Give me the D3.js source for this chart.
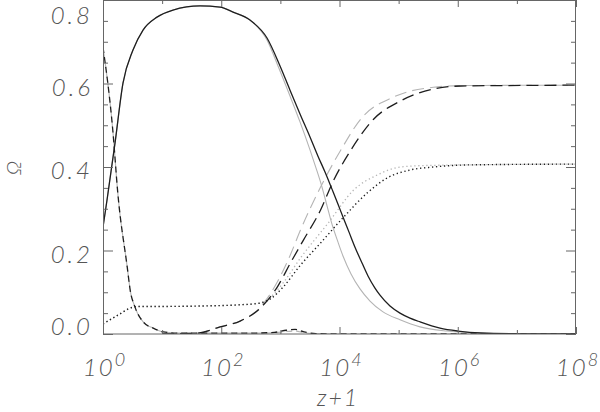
<!DOCTYPE html>
<html><head><meta charset="utf-8">
<script src="https://cdn.jsdelivr.net/npm/d3@7"></script>
<style>
html,body{margin:0;padding:0;background:#fff;}
svg{display:block;}
text{font-family:Lato,"Open Sans","DejaVu Sans",sans-serif;font-style:italic;font-weight:300;fill:#555;}
</style></head>
<body>
<script>
// ---- data (x as log10(z+1), y as Omega) ----
const xDomain = [1, 1e8];
const yDomain = [0, 0.8];
const xMajorExp = [0, 2, 4, 6, 8];
const xMinorExp = [1, 3, 5, 7];
const yMajorTicks = [0.0, 0.2, 0.4, 0.6, 0.8];
const yMinorTicks = [0.05,0.1,0.15,0.25,0.3,0.35,0.45,0.5,0.55,0.65,0.7,0.75];
const yTickLabels = ["0.0","0.2","0.4","0.6","0.8"];
const xTitle = "z+1";
const yTitle = "Ω";

// solid: model A (black) and model B (gray)
const solidA_lz = [0,0.068,0.203,0.338,0.507,0.677,0.913,1.184,1.641,1.979,2.199,2.486,2.774,2.994,3.163,3.332,3.501,3.636,3.755,3.873,3.975,4.059,4.161,4.262,4.381,4.482,4.600,4.685,4.854,5.023,5.192,5.362,5.70,6.004,6.376,7.053,8.0];
const solidA_om = [0.256,0.321,0.457,0.601,0.680,0.728,0.759,0.776,0.786,0.783,0.771,0.752,0.709,0.642,0.584,0.527,0.472,0.426,0.388,0.347,0.311,0.280,0.244,0.208,0.170,0.139,0.110,0.093,0.067,0.050,0.038,0.029,0.014,0.007,0.0024,0.0005,0];
const solidB_lz = [0,0.068,0.203,0.338,0.507,0.677,0.913,1.184,1.641,1.979,2.199,2.486,2.774,2.96,3.163,3.332,3.501,3.602,3.704,3.789,3.873,3.975,4.059,4.195,4.347,4.516,4.736,5.023,5.362,5.818,6.376,7.053,8.0];
const solidB_om = [0.256,0.321,0.457,0.601,0.680,0.728,0.759,0.776,0.786,0.783,0.771,0.752,0.704,0.642,0.570,0.508,0.441,0.398,0.352,0.307,0.263,0.220,0.187,0.144,0.108,0.079,0.053,0.034,0.017,0.007,0.0024,0.0005,0];

// long dash: rising tracker component
const longA_lz = [1.0,1.59,1.98,2.32,2.66,2.95,3.17,3.39,3.68,3.88,4.19,4.58,5.03,5.59,6.05,6.73,8.0];
const longA_om = [0,0.002,0.017,0.031,0.062,0.113,0.17,0.225,0.297,0.362,0.44,0.515,0.558,0.587,0.594,0.595,0.596];
const longB_lz = [1.0,1.59,1.98,2.32,2.66,2.95,3.17,3.34,3.68,4.02,4.36,4.92,5.59,6.05,8.0];
const longB_om = [0,0.002,0.017,0.031,0.064,0.125,0.19,0.249,0.352,0.44,0.515,0.568,0.591,0.595,0.596];

// dotted
const dotA_lz = [0,0.25,0.5,0.6,1.0,1.64,2.32,2.66,2.83,3.05,3.34,3.68,4.07,4.47,4.81,5.2,5.59,6.17,8.0];
const dotA_om = [0.024,0.045,0.064,0.066,0.066,0.067,0.07,0.074,0.084,0.113,0.165,0.218,0.28,0.338,0.374,0.393,0.40,0.405,0.407];
const dotB_lz = [0,0.25,0.5,0.6,1.0,1.64,2.32,2.66,2.83,3.05,3.34,3.81,4.24,4.64,5.03,5.59,8.0];
const dotB_om = [0.024,0.045,0.064,0.066,0.066,0.067,0.07,0.075,0.088,0.123,0.182,0.266,0.345,0.381,0.40,0.404,0.407];

// short dash: present-day dark energy
const dashA_lz = [0,0.17,0.25,0.41,0.46,0.54,0.68,0.85,1.02,1.3,2.5,2.9,3.1,3.25,3.4,3.6,4.0,8.0];
const dashA_om = [0.687,0.481,0.338,0.16,0.105,0.065,0.029,0.014,0.005,0.002,0.002,0.004,0.009,0.011,0.005,0.001,0,0];
const dashB_lz = [0,0.17,0.25,0.41,0.46,0.54,0.68,0.85,1.02,1.3,2.5,2.9,3.1,3.25,3.4,3.6,4.0,8.0];
const dashB_om = [0.687,0.481,0.338,0.16,0.105,0.065,0.029,0.014,0.005,0.002,0.002,0.003,0.006,0.007,0.003,0.001,0,0];

// ---- layout ----
const W = 600, H = 412;
const L = 103, R = 576, T = 0, B = 334;
const svg = d3.select("body").append("svg").attr("width", W).attr("height", H);
const x = d3.scaleLog().domain(xDomain).range([L, R]);
const y = d3.scaleLinear().domain(yDomain).range([B, T]);

svg.append("clipPath").attr("id","clip").append("rect")
  .attr("x", L).attr("y", T).attr("width", R-L).attr("height", B-T);

const line = d3.line().x(d => x(Math.pow(10, d[0]))).y(d => y(d[1])).curve(d3.curveMonotoneX);
const zip = (a, b) => a.map((v, i) => [v, b[i]]);

const g = svg.append("g").attr("clip-path", "url(#clip)");
const GRAY = "#b4b4b4", BLK = "#1e1e1e";
const series = [
  {d: zip(solidB_lz, solidB_om), c: GRAY, w: 1.1, dash: null},
  {d: zip(longB_lz, longB_om), c: GRAY, w: 1.1, dash: "12,6"},
  {d: zip(dotB_lz, dotB_om), c: GRAY, w: 1.3, dash: "1.3,2.7"},
  {d: zip(dashB_lz, dashB_om), c: GRAY, w: 1.1, dash: "6,4", off: 5},
  {d: zip(solidA_lz, solidA_om), c: BLK, w: 1.3, dash: null},
  {d: zip(longA_lz, longA_om), c: BLK, w: 1.3, dash: "12,6"},
  {d: zip(dotA_lz, dotA_om), c: BLK, w: 1.4, dash: "1.3,2.7"},
  {d: zip(dashA_lz, dashA_om), c: BLK, w: 1.3, dash: "6,4"}
];
series.forEach(s => {
  g.append("path").attr("d", line(s.d)).attr("fill","none")
    .attr("stroke", s.c).attr("stroke-width", s.w)
    .attr("stroke-dasharray", s.dash).attr("stroke-dashoffset", s.off || 0);
});

// ---- axes ----
const AX = "#666";
function styleAxis(sel){
  sel.select(".domain").remove();
  sel.selectAll("line").attr("stroke", AX).attr("stroke-width", 1);
  sel.selectAll("text").remove();
}
const xMaj = xMajorExp.map(e => Math.pow(10, e));
const xMin = xMinorExp.map(e => Math.pow(10, e));
svg.append("g").attr("transform",`translate(0,${B})`).call(d3.axisBottom(x).tickValues(xMaj).tickSize(-7)).call(styleAxis);
svg.append("g").attr("transform",`translate(0,${B})`).call(d3.axisBottom(x).tickValues(xMin).tickSize(-4)).call(styleAxis);
svg.append("g").attr("transform",`translate(0,${T})`).call(d3.axisTop(x).tickValues(xMaj).tickSize(-7)).call(styleAxis);
svg.append("g").attr("transform",`translate(0,${T})`).call(d3.axisTop(x).tickValues(xMin).tickSize(-4)).call(styleAxis);
svg.append("g").attr("transform",`translate(${L},0)`).call(d3.axisLeft(y).tickValues(yMajorTicks).tickSize(-10)).call(styleAxis);
svg.append("g").attr("transform",`translate(${L},0)`).call(d3.axisLeft(y).tickValues(yMinorTicks).tickSize(-5)).call(styleAxis);
svg.append("g").attr("transform",`translate(${R},0)`).call(d3.axisRight(y).tickValues(yMajorTicks).tickSize(-10)).call(styleAxis);
svg.append("g").attr("transform",`translate(${R},0)`).call(d3.axisRight(y).tickValues(yMinorTicks).tickSize(-5)).call(styleAxis);
svg.append("rect").attr("x", L+0.5).attr("y", T+0.5).attr("width", R-L-1).attr("height", B-T-0.5)
  .attr("fill","none").attr("stroke", AX).attr("stroke-width", 1);

// y tick labels
yMajorTicks.forEach((v, i) => {
  const base = Math.max(24, Math.min(335, y(v) + 12));
  svg.append("text").attr("x", 93).attr("y", base).attr("text-anchor","end")
    .attr("font-size", 24).attr("letter-spacing", 3).text(yTickLabels[i]);
});
// x tick labels
xMajorExp.forEach(e => {
  const t = svg.append("text").attr("x", x(Math.pow(10, e)) + 2).attr("y", 376)
    .attr("text-anchor","middle").attr("font-size", 24).attr("letter-spacing", 2);
  t.append("tspan").text("10");
  t.append("tspan").attr("dy", -10).attr("font-size", 18).text(String(e));
});
// titles
svg.append("text").attr("x", 338).attr("y", 406).attr("text-anchor","middle")
  .attr("font-size", 23).attr("letter-spacing", 2).text(xTitle);
svg.append("text").attr("transform","translate(21,168) rotate(-90)").attr("text-anchor","middle")
  .attr("font-size", 20).text(yTitle);
</script>
</body></html>
